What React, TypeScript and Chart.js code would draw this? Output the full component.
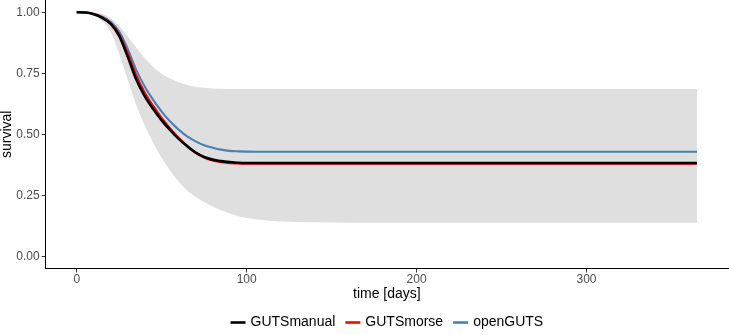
import React, { useEffect, useRef } from "react";
import { Chart, registerables } from "chart.js";

Chart.register(...registerables);

// Time grid (days) shared by every series
const days = [0, 5, 10, 15, 20, 25, 30, 35, 40, 45, 50, 55, 60, 65, 70, 75, 80, 85, 90, 95, 100, 110, 120, 140, 160, 200, 365];

// Predicted survival per implementation
const gutsManual = [1.0, 0.999, 0.992, 0.977, 0.952, 0.903, 0.818, 0.725, 0.656, 0.603, 0.557, 0.517, 0.481, 0.451, 0.425, 0.407, 0.396, 0.39, 0.386, 0.383, 0.382, 0.382, 0.382, 0.382, 0.382, 0.382, 0.382];
const gutsMorse = [1.0, 0.999, 0.993, 0.979, 0.955, 0.911, 0.833, 0.742, 0.671, 0.616, 0.567, 0.524, 0.486, 0.453, 0.425, 0.405, 0.392, 0.385, 0.381, 0.38, 0.379, 0.379, 0.379, 0.379, 0.379, 0.379, 0.379];
const openGuts = [1.0, 0.999, 0.994, 0.982, 0.961, 0.921, 0.85, 0.764, 0.696, 0.641, 0.593, 0.552, 0.519, 0.491, 0.471, 0.455, 0.445, 0.437, 0.432, 0.43, 0.429, 0.428, 0.428, 0.428, 0.428, 0.428, 0.428];

// Uncertainty band
const bandUpper = [1.0, 1.0, 0.998, 0.993, 0.975, 0.943, 0.9, 0.855, 0.812, 0.776, 0.748, 0.728, 0.713, 0.702, 0.695, 0.69, 0.687, 0.686, 0.685, 0.685, 0.685, 0.685, 0.685, 0.685, 0.685, 0.685, 0.685];
const bandLower = [1.0, 0.998, 0.988, 0.963, 0.92, 0.83, 0.724, 0.62, 0.537, 0.465, 0.403, 0.35, 0.305, 0.27, 0.243, 0.222, 0.204, 0.189, 0.176, 0.164, 0.157, 0.148, 0.143, 0.139, 0.137, 0.137, 0.137];

const seriesLabels = ["GUTSmanual", "GUTSmorse", "openGUTS"];
const seriesColors = ["#000000", "#FF0000", "#4682B4"];
const seriesWidths = [2.6, 2.1, 2.1];

const xTicks = [0, 100, 200, 300];
const yTicks = [0, 0.25, 0.5, 0.75, 1];

const FONT = "'Liberation Sans', Arial, sans-serif";

const toPoints = (ys: number[]) => days.map((d, i) => ({ x: d, y: ys[i] }));

// Draws the horizontal legend centred under the panel
const bottomLegend = {
  id: "bottomLegend",
  afterDraw(chart: any) {
    const { ctx, chartArea } = chart;
    const items = chart.data.datasets.filter((d: any) => d.showInLegend);
    const keyW = 15;
    const keyGap = 5;
    const itemGap = 10;
    ctx.save();
    ctx.font = `14px ${FONT}`;
    const widths = items.map((d: any) => keyW + keyGap + ctx.measureText(d.label).width);
    const total = widths.reduce((a: number, b: number) => a + b, 0) + itemGap * (items.length - 1);
    let x = (chartArea.left + chartArea.right) / 2 - total / 2;
    const y = 322.5;
    items.forEach((d: any, i: number) => {
      ctx.strokeStyle = d.borderColor;
      ctx.lineWidth = 2.6;
      ctx.lineCap = "butt";
      ctx.beginPath();
      ctx.moveTo(x, y);
      ctx.lineTo(x + keyW, y);
      ctx.stroke();
      ctx.fillStyle = "#000000";
      ctx.textAlign = "left";
      ctx.textBaseline = "middle";
      ctx.fillText(d.label, x + keyW + keyGap, y);
      x += widths[i] + itemGap;
    });
    ctx.restore();
  },
};

export default function App() {
  const canvasRef = useRef<HTMLCanvasElement | null>(null);

  useEffect(() => {
    if (!canvasRef.current) return;
    const lines = seriesLabels.map((label, i) => ({
      label,
      data: toPoints([gutsManual, gutsMorse, openGuts][i]),
      borderColor: seriesColors[i],
      backgroundColor: seriesColors[i],
      borderWidth: seriesWidths[i],
      pointRadius: 0,
      fill: false,
      cubicInterpolationMode: "monotone" as const,
      order: i + 1,
      showInLegend: true,
    }));

    const chart = new Chart(canvasRef.current, {
      type: "line",
      data: {
        datasets: [
          {
            label: "upper",
            data: toPoints(bandUpper),
            borderWidth: 0,
            borderColor: "rgba(0,0,0,0)",
            backgroundColor: "#DFDFDF",
            pointRadius: 0,
            fill: "+1",
            cubicInterpolationMode: "monotone",
            order: 10,
          } as any,
          {
            label: "lower",
            data: toPoints(bandLower),
            borderWidth: 0,
            borderColor: "rgba(0,0,0,0)",
            pointRadius: 0,
            fill: false,
            cubicInterpolationMode: "monotone",
            order: 11,
          } as any,
          ...lines,
        ],
      },
      options: {
        animation: false,
        responsive: false,
        devicePixelRatio: 1,
        layout: { padding: { left: 0, right: 1, top: 0, bottom: 30 } },
        plugins: {
          legend: { display: false },
          tooltip: { enabled: false },
        },
        scales: {
          x: {
            type: "linear",
            min: -18.25,
            max: 383.25,
            afterBuildTicks: (scale: any) => {
              scale.ticks = xTicks.map((value) => ({ value }));
            },
            afterFit: (scale: any) => {
              scale.height = 36.5;
              scale.paddingLeft = 0;
              scale.paddingRight = 0;
            },
            ticks: {
              autoSkip: false,
              maxRotation: 0,
              padding: 1,
              color: "#4D4D4D",
              font: { family: FONT, size: 12, lineHeight: 1 },
              callback: (v: any) => String(v),
            },
            grid: {
              drawOnChartArea: false,
              drawTicks: true,
              tickLength: 4,
              tickColor: "#333333",
              tickWidth: 1,
            },
            border: { display: true, color: "#000000", width: 1 },
            title: {
              display: true,
              text: "time [days]",
              color: "#000000",
              font: { family: FONT, size: 14, lineHeight: 1 },
              padding: { top: 0, bottom: 4.2 },
            },
          },
          y: {
            type: "linear",
            min: -0.05,
            max: 1.05,
            afterBuildTicks: (scale: any) => {
              scale.ticks = yTicks.map((value) => ({ value }));
            },
            afterFit: (scale: any) => {
              scale.width = 45.7;
              scale.paddingTop = 0;
              scale.paddingBottom = 0;
            },
            ticks: {
              autoSkip: false,
              padding: 2,
              color: "#4D4D4D",
              font: { family: FONT, size: 12, lineHeight: 1 },
              callback: (v: any) => Number(v).toFixed(2),
            },
            grid: {
              drawOnChartArea: false,
              drawTicks: true,
              tickLength: 4,
              tickColor: "#333333",
              tickWidth: 1,
            },
            border: { display: true, color: "#000000", width: 1 },
            title: {
              display: true,
              text: "survival",
              color: "#000000",
              font: { family: FONT, size: 14, lineHeight: 1 },
              padding: { top: 0, bottom: 0 },
            },
          },
        },
      },
      plugins: [bottomLegend],
    });

    return () => chart.destroy();
  }, []);

  return (
    <div style={{ position: "absolute", left: 0, top: 0, width: 729, height: 335, background: "#FFFFFF" }}>
      <canvas ref={canvasRef} width={729} height={335} />
    </div>
  );
}
